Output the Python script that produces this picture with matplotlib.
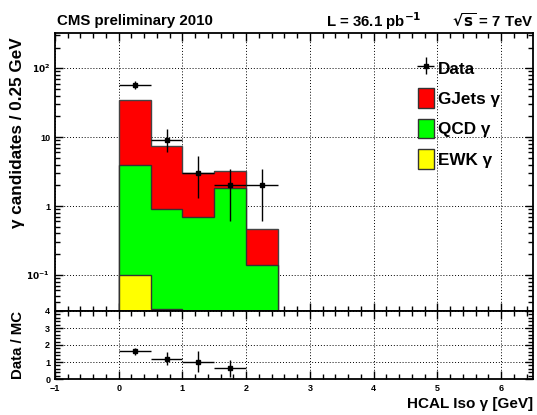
import numpy as np
import matplotlib
matplotlib.use("Agg")
import matplotlib.pyplot as plt
from matplotlib.ticker import FixedLocator, FuncFormatter, MultipleLocator, LogLocator, NullFormatter
from matplotlib.patches import Patch

plt.rcParams['font.family'] = ['Liberation Sans', 'DejaVu Sans']
plt.rcParams['font.weight'] = 'bold'
plt.rcParams['mathtext.default'] = 'bf'

# binning and data
edges = [0.0, 0.5, 1.0, 1.5, 2.0, 2.5]
centers = [0.25, 0.75, 1.25, 1.75, 2.25]
ewk = [0.10, 0.032, 0.0, 0.0, 0.0]
qcd = [3.9, 0.89, 0.70, 1.80, 0.14]
gjets = [31.0, 6.6, 2.3, 1.4, 0.33]
data = [57, 9, 3, 2, 2]
data_lo = [7.5, 3.0, 1.7, 1.4, 1.4]
data_hi = [8.5, 4.0, 2.4, 1.5, 1.5]

ratio_x = [0.25, 0.75, 1.25, 1.75]
ratio = [1.62, 1.20, 1.02, 0.62]
ratio_lo = [0.22, 0.40, 0.60, 0.50]
ratio_hi = [0.22, 0.40, 0.60, 0.50]

s_ewk = np.array(ewk)
s_qcd = s_ewk + np.array(qcd)
s_all = s_qcd + np.array(gjets)

fig = plt.figure(figsize=(5.37, 4.15), dpi=100)
ax = fig.add_axes([55/537, 1-311/415, 478/537, 278/415])
axr = fig.add_axes([55/537, 1-379/415, 478/537, 68/415])

base = 1e-3
ax.stairs(s_all, edges, baseline=base, fill=True, color='#ff0000')
ax.stairs(s_all, edges, baseline=base, color='#444444', lw=1.0)
ax.stairs(s_qcd, edges, baseline=base, fill=True, color='#00ff00')
ax.stairs(s_qcd, edges, baseline=base, color='#333333', lw=1.0)
ax.stairs(s_ewk[:2], edges[:3], baseline=base, fill=True, color='#ffff00')
ax.stairs(s_ewk[:2], edges[:3], baseline=base, color='#333333', lw=1.0)

eb = ax.errorbar(centers, data, xerr=0.25, yerr=[data_lo, data_hi], fmt='s', color='black',
                 ms=3, lw=1, capsize=0, zorder=5)

ax.set_yscale('log')
ax.set_xlim(-1, 6.5)
ax.set_ylim(0.030, 325)
ax.yaxis.set_major_locator(FixedLocator([0.1, 1, 10, 100]))
ax.yaxis.set_minor_locator(LogLocator(base=10, subs=np.arange(2, 10)))
ax.yaxis.set_minor_formatter(NullFormatter())
labels = {0.1: r'$10^{-1}$', 1: '1', 10: '10', 100: r'$10^{2}$'}
ax.yaxis.set_major_formatter(FuncFormatter(lambda v, p: labels.get(round(v, 3), '')))
ax.xaxis.set_major_locator(MultipleLocator(1))
ax.xaxis.set_minor_locator(MultipleLocator(0.2))
ax.tick_params(labelbottom=False)

for a in (ax, axr):
    a.tick_params(which='both', direction='in', top=True, right=True, labelsize=6.5)
    a.tick_params(which='major', length=6, width=1)
    a.tick_params(which='minor', length=3.5, width=1)
    a.grid(True, which='major', ls=(0, (1, 2)), color='black', lw=0.7)
    a.set_axisbelow(True)
    for sp in a.spines.values():
        sp.set_linewidth(1.3)

axr.errorbar(ratio_x, ratio, xerr=0.25, yerr=[ratio_lo, ratio_hi], fmt='s', color='black',
             ms=3, lw=1, capsize=0, zorder=5)
axr.set_xlim(-1, 6.5)
axr.set_ylim(0, 4)
axr.xaxis.set_major_locator(MultipleLocator(1))
axr.xaxis.set_minor_locator(MultipleLocator(0.2))
axr.yaxis.set_major_locator(MultipleLocator(1))
axr.yaxis.set_minor_locator(MultipleLocator(0.2))

ax.set_ylabel('γ candidates / 0.25 GeV', fontsize=12.3, fontweight='bold', loc='top')
ax.yaxis.set_label_coords(-0.063, 0.985)
axr.set_ylabel('Data / MC', fontsize=10.8, fontweight='bold', loc='top')
axr.yaxis.set_label_coords(-0.063, 1.0)
fig.text(533/537, 1-404/415, 'HCAL Iso γ [GeV]', ha='right', va='center', fontsize=11, fontweight='bold')

fig.text(57/537, 1-21/415, 'CMS preliminary 2010', ha='left', va='center', fontsize=10.8, fontweight='bold')
fig.text(326/537, 1-21/415, r'L = 36.1 pb$^{-1}$', ha='left', va='center', fontsize=10.8, fontweight='bold')
fig.text(534/537, 1-21/415, r'$\sqrt{s}$ = 7 TeV', ha='right', va='center', fontsize=10.8, fontweight='bold')

handles = [
    eb,
    Patch(facecolor='#ff0000', edgecolor='#333333'),
    Patch(facecolor='#00ff00', edgecolor='#333333'),
    Patch(facecolor='#ffff00', edgecolor='#333333'),
]
ax.legend(handles, ['Data', 'GJets γ', 'QCD γ', 'EWK γ'], loc='upper left',
          bbox_to_anchor=(0.759, 0.91), frameon=False, fontsize=12.3,
          handlelength=0.92, handleheight=1.4, labelspacing=0.62, handletextpad=0.25,
          borderpad=0, borderaxespad=0)

fig.savefig('out.png', dpi=100)
